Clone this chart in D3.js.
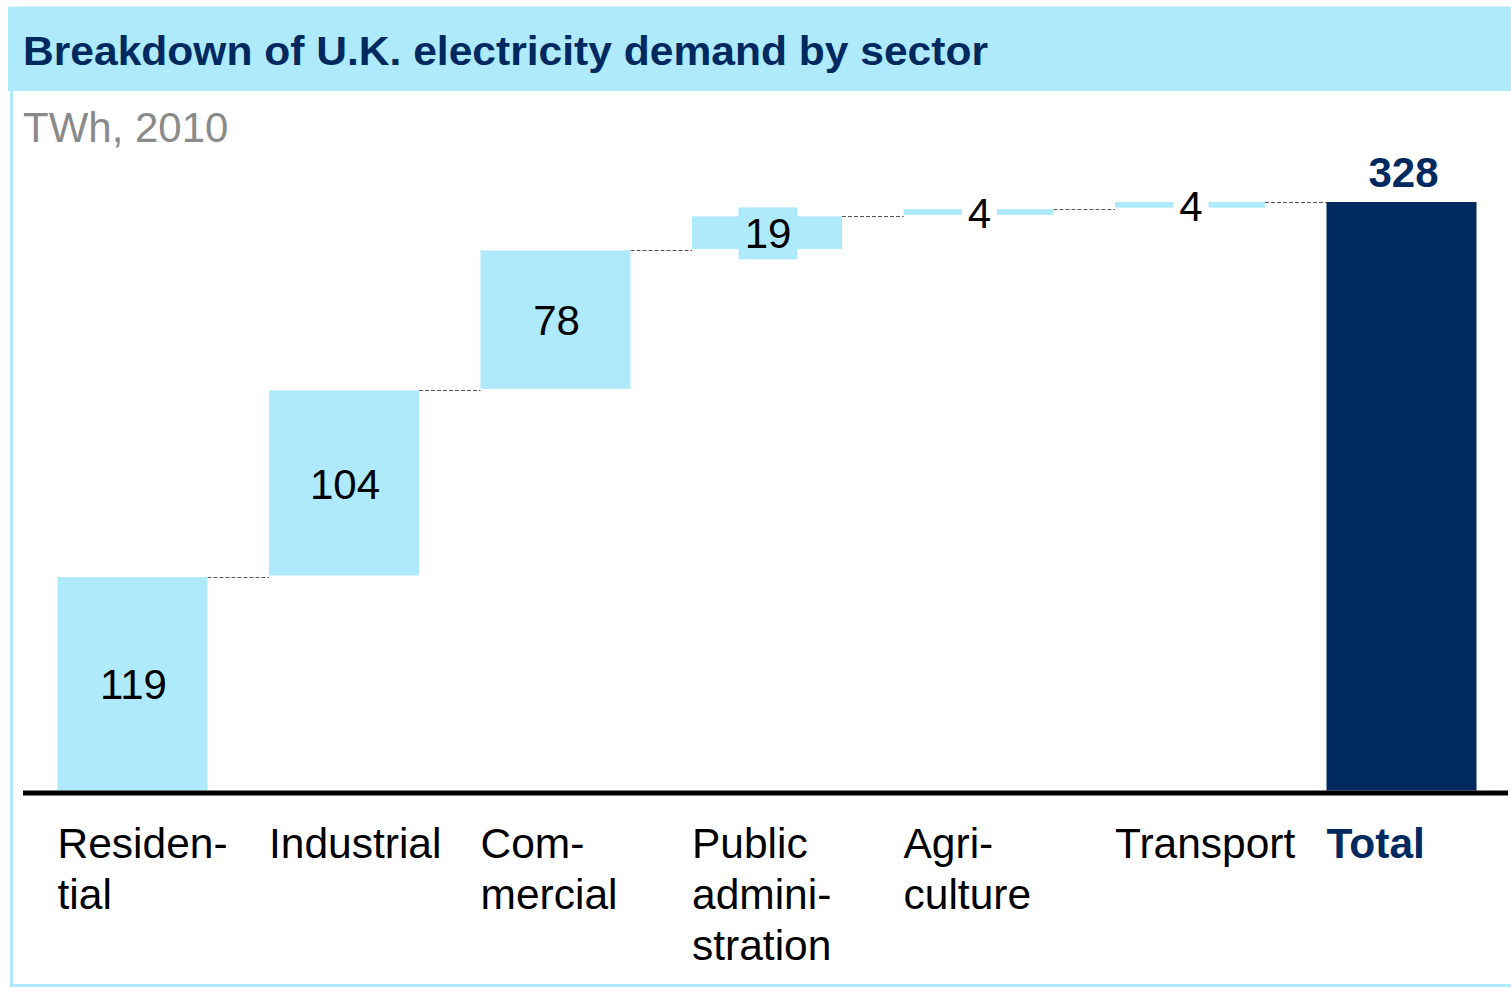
<!DOCTYPE html>
<html>
<head>
<meta charset="utf-8">
<script src="https://cdn.jsdelivr.net/npm/d3@7"></script>
<style>
  html, body { margin: 0; padding: 0; background: #fff; }
  svg { display: block; }
  text { font-family: "Liberation Sans", Arial, sans-serif; }
</style>
</head>
<body>
<svg id="chart" width="1511" height="987"></svg>
<script>
// ---- data ----
const categories = ["Residential", "Industrial", "Commercial", "Public administration", "Agriculture", "Transport", "Total"];
const labelLines = [["Residen-", "tial"], ["Industrial"], ["Com-", "mercial"], ["Public", "admini-", "stration"], ["Agri-", "culture"], ["Transport"], ["Total"]];
const values = [119, 104, 78, 19, 4, 4, 328];
const isTotal = [false, false, false, false, false, false, true];
const titleText = "Breakdown of U.K. electricity demand by sector";
const unitText = "TWh, 2010";

// ---- styles ----
const LIGHT = "#aeeafc";
const NAVY = "#002960";

const svg = d3.select("#chart");

// frame + title band
svg.append("rect").attr("x", 11.5).attr("y", 8).attr("width", 1520).attr("height", 977.5)
  .attr("fill", "none").attr("stroke", LIGHT).attr("stroke-width", 3);
svg.append("rect").attr("x", 8).attr("y", 7).attr("width", 1510).attr("height", 84).attr("fill", LIGHT);
svg.append("text").attr("x", 23).attr("y", 65).attr("font-size", 41.5).attr("font-weight", "bold")
  .attr("fill", NAVY).attr("textLength", 965).attr("lengthAdjust", "spacingAndGlyphs").text(titleText);
svg.append("text").attr("x", 23).attr("y", 142).attr("font-size", 42).attr("fill", "#8a8a8a").text(unitText);

// scales
const x = d3.scaleBand().domain(categories).range([57.5, 1476.5]).paddingInner(0.2908).paddingOuter(0);
const y = d3.scaleLinear().domain([0, 328]).range([790.5, 202]);

// compute waterfall segments
let cum = 0;
const segs = categories.map((c, i) => {
  let lo, hi;
  if (isTotal[i]) { lo = 0; hi = values[i]; }
  else { lo = cum; hi = cum + values[i]; cum = hi; }
  return { cat: c, lo, hi, v: values[i], total: isTotal[i], lines: labelLines[i] };
});

// connectors
const g = svg.append("g");
segs.forEach((s, i) => {
  if (i === segs.length - 1) return;
  const yy = Math.round(y(s.hi)) + 0.5;
  g.append("line")
    .attr("x1", x(s.cat) + x.bandwidth()).attr("x2", x(segs[i + 1].cat))
    .attr("y1", yy).attr("y2", yy)
    .attr("stroke", "#555").attr("stroke-width", 1).attr("stroke-dasharray", "4,2");
});

// bars
g.selectAll("rect.bar").data(segs).enter().append("rect")
  .attr("class", "bar")
  .attr("x", d => x(d.cat))
  .attr("width", x.bandwidth())
  .attr("y", d => y(d.hi))
  .attr("height", d => Math.max(1, y(d.lo) - y(d.hi)) - (d.total || d.lo === 0 ? 0 : 1.5))
  .attr("fill", d => d.total ? NAVY : LIGHT);

// value labels
segs.forEach(s => {
  const cx = x(s.cat) + x.bandwidth() / 2;
  const h = y(s.lo) - y(s.hi);
  if (s.total) {
    svg.append("text").attr("x", cx + 2).attr("y", y(s.hi) - 15)
      .attr("text-anchor", "middle").attr("font-size", 42).attr("font-weight", "bold")
      .attr("fill", NAVY).text(s.v);
    return;
  }
  const cy = (y(s.lo) + y(s.hi)) / 2;
  if (h < 60) {
    const small = h < 15;
    const bw = small ? 35 : 59, bh = small ? 40 : 52;
    svg.append("rect").attr("x", cx - bw / 2 + 1).attr("y", cy - bh / 2)
      .attr("width", bw).attr("height", bh).attr("fill", small ? "#fff" : LIGHT);
  }
  svg.append("text").attr("x", cx + 1).attr("y", cy + 15)
    .attr("text-anchor", "middle").attr("font-size", 42).attr("fill", "#000").text(s.v);
});

// baseline
svg.append("line").attr("x1", 23).attr("x2", 1508).attr("y1", 793).attr("y2", 793)
  .attr("stroke", "#000").attr("stroke-width", 5);

// category labels
segs.forEach(s => {
  const t = svg.append("text").attr("x", x(s.cat)).attr("y", 858)
    .attr("font-size", 42.5)
    .attr("font-weight", s.total ? "bold" : "normal")
    .attr("fill", s.total ? NAVY : "#000");
  s.lines.forEach((ln, j) => {
    t.append("tspan").attr("x", x(s.cat)).attr("dy", j === 0 ? 0 : 51).text(ln);
  });
});
</script>
</body>
</html>
